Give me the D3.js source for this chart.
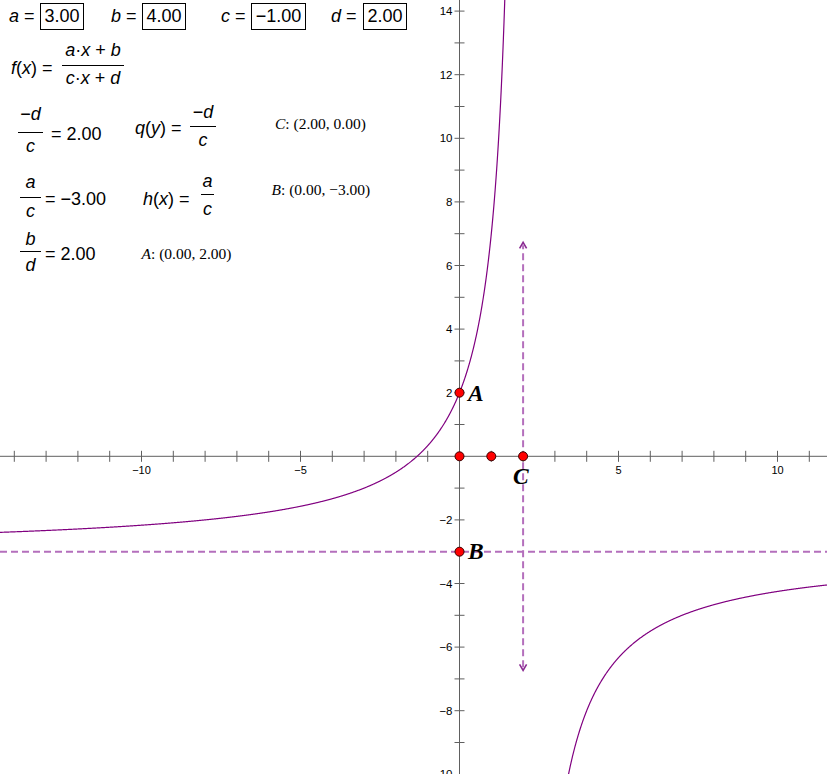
<!DOCTYPE html>
<html><head><meta charset="utf-8">
<script src="https://cdn.jsdelivr.net/npm/d3@7"></script>
<style>body{margin:0;background:#fff}svg{display:block}</style>
</head><body>
<svg id="chart" width="827" height="774"></svg>
<script>
// ---- data ----
const params = [{name:"a", value:3.00},{name:"b", value:4.00},{name:"c", value:-1.00},{name:"d", value:2.00}];
const xTickLabels = [-10, -5, 5, 10];
const yTickLabels = [-10, -8, -6, -4, -2, 2, 4, 6, 8, 10, 12, 14];
const points = [
  {name:"A", x:0, y:2, label:true},
  {name:"B", x:0, y:-3, label:true},
  {name:"C", x:2, y:0, label:true},
  {name:"O", x:0, y:0, label:false},
  {name:"P", x:1, y:0, label:false}
];
const vectorEnds = [-6.73, 6.73];   // vertical arrow at x = -d/c
const pointTexts = [
  {name:"C", text:": (2.00, 0.00)"},
  {name:"B", text:": (0.00, \u22123.00)"},
  {name:"A", text:": (0.00, 2.00)"}
];

const P = Object.fromEntries(params.map(p=>[p.name,p.value]));
const fmt = v => (v<0?"\u2212":"") + Math.abs(v).toFixed(2);

const W = 827, H = 774, k = 31.8, x0 = 459.5, y0 = 456.3;
const x = d3.scaleLinear().domain([-x0/k, (W-x0)/k]).range([0, W]);
const y = d3.scaleLinear().domain([(y0-H)/k, y0/k]).range([H, 0]);

const svg = d3.select("#chart");
const sans = "'Liberation Sans', Arial, sans-serif";
const serif = "'Liberation Serif', 'Times New Roman', serif";
const axisColor = "#606060";
const dashColor = "#b46fbc";
const curveColor = "#800080";

// ---- asymptote / vector ----
const hAs = P.a / P.c, vAs = -P.d / P.c;
svg.append("line").attr("x1", 0).attr("x2", W).attr("y1", y(hAs)).attr("y2", y(hAs))
  .attr("stroke", dashColor).attr("stroke-width", 2).attr("stroke-dasharray", "7,4");
svg.append("line").attr("x1", x(vAs)).attr("x2", x(vAs))
  .attr("y1", y(vectorEnds[0]) - 3).attr("y2", y(vectorEnds[1]) + 3)
  .attr("stroke", dashColor).attr("stroke-width", 2).attr("stroke-dasharray", "7,4");
vectorEnds.forEach(v => {
  const tx = x(vAs), ty = y(v), dir = v > 0 ? 1 : -1;
  svg.append("path")
    .attr("d", `M${tx-3.5},${ty+dir*6} L${tx},${ty} L${tx+3.5},${ty+dir*6}`)
    .attr("fill", "none").attr("stroke", "#8a2a92").attr("stroke-width", 1.6);
});

// ---- axes ----
const g = svg.append("g").attr("stroke", axisColor).attr("stroke-width", 1);
g.append("line").attr("x1", 0).attr("x2", W).attr("y1", y(0)).attr("y2", y(0));
g.append("line").attr("x1", x(0)).attr("x2", x(0)).attr("y1", 0).attr("y2", H);
const xt = d3.range(Math.ceil(x.domain()[0]), Math.floor(x.domain()[1]) + 1).filter(v => v !== 0);
const yt = d3.range(Math.ceil(y.domain()[0]), Math.floor(y.domain()[1]) + 1).filter(v => v !== 0);
g.selectAll(".xt").data(xt).join("line").attr("x1", d => x(d)).attr("x2", d => x(d))
  .attr("y1", y(0) - 5.5).attr("y2", y(0) + 5.5);
g.selectAll(".yt").data(yt).join("line").attr("y1", d => y(d)).attr("y2", d => y(d))
  .attr("x1", x(0) - 5).attr("x2", x(0) + 5);
svg.selectAll(".xl").data(xTickLabels).join("text")
  .attr("x", d => x(d)).attr("y", y(0) + 18).attr("text-anchor", "middle")
  .attr("font-family", sans).attr("font-size", 11).attr("fill", "#000")
  .text(d => d < 0 ? "\u2212" + Math.abs(d) : d);
svg.selectAll(".yl").data(yTickLabels).join("text")
  .attr("x", x(0) - 7).attr("y", d => y(d) + 4).attr("text-anchor", "end")
  .attr("font-family", sans).attr("font-size", 11.5).attr("fill", "#000")
  .text(d => d < 0 ? "\u2212" + Math.abs(d) : d);

// ---- curve f(x) = (a x + b)/(c x + d) ----
const f = t => (P.a * t + P.b) / (P.c * t + P.d);
const line = d3.line().x(d => x(d)).y(d => y(f(d)));
const left = d3.range(x.domain()[0], vAs - 0.001, 0.01).filter(t => f(t) < y.domain()[1] + 1);
const right = d3.range(vAs + 0.001, x.domain()[1] + 0.01, 0.01).filter(t => f(t) > y.domain()[0] - 1);
[left, right].forEach(seg => {
  svg.append("path").attr("d", line(seg)).attr("fill", "none")
    .attr("stroke", curveColor).attr("stroke-width", 1.2);
});

// ---- points ----
svg.selectAll(".pt").data(points).join("circle")
  .attr("cx", d => x(d.x)).attr("cy", d => y(d.y)).attr("r", 4.5)
  .attr("fill", "#ff0000").attr("stroke", "#3a0000").attr("stroke-width", 1);
const labelOff = {A:[8.5, 8.5], B:[8.5, 7.5], C:[-10, 27.5]};
svg.selectAll(".pl").data(points.filter(p => p.label)).join("text")
  .attr("x", d => x(d.x) + labelOff[d.name][0]).attr("y", d => y(d.y) + labelOff[d.name][1])
  .attr("font-family", serif).attr("font-size", 23.5).attr("font-weight", "bold").attr("font-style", "italic")
  .attr("fill", "#000").text(d => d.name);

// ---- left text panel ----
function txt(xp, yp, parts, opts = {}) {
  const t = svg.append("text").attr("x", xp).attr("y", yp)
    .attr("font-family", opts.family || sans).attr("font-size", opts.size || 18)
    .attr("text-anchor", opts.anchor || "start").attr("fill", "#000");
  parts.forEach(p => {
    const s = t.append("tspan").text(p[0]);
    if (p[1]) s.attr("font-style", "italic");
  });
  return t;
}
function bar(x1, x2, yy) {
  svg.append("line").attr("x1", x1).attr("x2", x2).attr("y1", yy).attr("y2", yy)
    .attr("stroke", "#000").attr("stroke-width", 1);
}

// parameter row
const rowX = [{l:9, bx:40, bw:43}, {l:111, bx:142, bw:43}, {l:221, bx:251, bw:54}, {l:331, bx:363, bw:43}];
params.forEach((p, i) => {
  const r = rowX[i];
  txt(r.l, 22, [[p.name, true], [" =", false]]);
  svg.append("rect").attr("x", r.bx + 0.5).attr("y", 3.5).attr("width", r.bw).attr("height", 26)
    .attr("fill", "none").attr("stroke", "#000").attr("stroke-width", 1);
  txt(r.bx + r.bw / 2 + 0.5, 22, [[fmt(p.value), false]], {anchor: "middle"});
});

// f(x)
txt(11, 74, [["f", true], ["(", false], ["x", true], [") =", false]]);
txt(93, 56, [["a", true], ["\u00b7", false], ["x", true], [" + ", false], ["b", true]], {anchor: "middle"});
bar(62, 124, 65.5);
txt(93, 84, [["c", true], ["\u00b7", false], ["x", true], [" + ", false], ["d", true]], {anchor: "middle"});

// -d/c
txt(30.5, 120, [["\u2212", false], ["d", true]], {anchor: "middle"});
bar(18, 43, 132.5);
txt(30.5, 152, [["c", true]], {anchor: "middle"});
txt(51, 140, [["= " + fmt(vAs), false]]);
txt(135, 134, [["q", true], ["(", false], ["y", true], [") =", false]]);
txt(203, 118, [["\u2212", false], ["d", true]], {anchor: "middle"});
bar(190, 216, 126.5);
txt(203, 146, [["c", true]], {anchor: "middle"});

// a/c
txt(30.5, 188, [["a", true]], {anchor: "middle"});
bar(20, 41, 197.5);
txt(30.5, 217, [["c", true]], {anchor: "middle"});
txt(45, 204.5, [["= " + fmt(hAs), false]]);
txt(143, 205, [["h", true], ["(", false], ["x", true], [") =", false]]);
txt(207.5, 187, [["a", true]], {anchor: "middle"});
bar(201, 214, 194.5);
txt(207.5, 215, [["c", true]], {anchor: "middle"});

// b/d
txt(30.5, 245, [["b", true]], {anchor: "middle"});
bar(20, 41, 251.5);
txt(30.5, 271, [["d", true]], {anchor: "middle"});
txt(45, 260, [["= " + fmt(P.b / P.d), false]]);

// point coordinate texts
const ptPos = {C:[275, 128.5], B:[271.5, 195], A:[141.5, 258.5]};
pointTexts.forEach(p => {
  txt(ptPos[p.name][0], ptPos[p.name][1], [[p.name, true], [p.text, false]], {family: serif, size: 15.5});
});
</script>
</body></html>
